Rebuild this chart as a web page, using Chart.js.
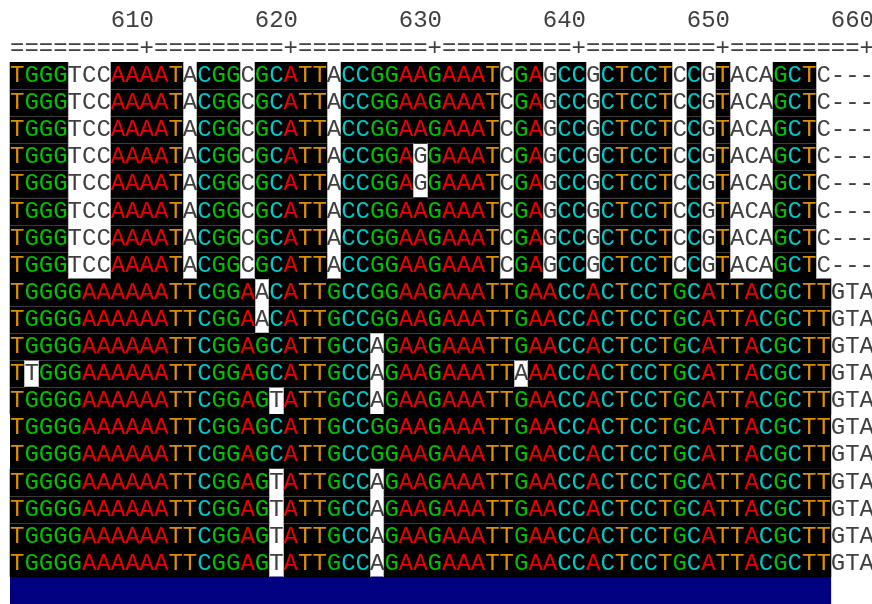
<!DOCTYPE html>
<html>
<head>
<meta charset="utf-8">
<script src="https://cdn.jsdelivr.net/npm/chart.js@4/dist/chart.umd.min.js"></script>
<style>
  html, body { margin: 0; padding: 0; background: #fff; overflow: hidden; }
  #wrap { width: 901px; height: 604px; }
</style>
</head>
<body>
<div id="wrap"><canvas id="aln" width="901" height="604"></canvas></div>
<script>
// Alignment block: positions 601..660
const firstPos = 601;
const lastPos = 660;
const rulerTicks = [610, 620, 630, 640, 650, 660];

// Row identifiers (not drawn)
const rowNames = ['s01', 's02', 's03', 's04', 's05', 's06', 's07', 's08', 's09', 's10',
                  's11', 's12', 's13', 's14', 's15', 's16', 's17', 's18', 's19'];

// Uppercase = shaded (conserved) residue, lowercase / '-' = unshaded
const sequences = [
  'TGGGtccAAAATaCGGcGCATTaCCGGAAGAAATcGAgCCgCTCCTcCgTacaGCTc---',
  'TGGGtccAAAATaCGGcGCATTaCCGGAAGAAATcGAgCCgCTCCTcCgTacaGCTc---',
  'TGGGtccAAAATaCGGcGCATTaCCGGAAGAAATcGAgCCgCTCCTcCgTacaGCTc---',
  'TGGGtccAAAATaCGGcGCATTaCCGGAgGAAATcGAgCCgCTCCTcCgTacaGCTc---',
  'TGGGtccAAAATaCGGcGCATTaCCGGAgGAAATcGAgCCgCTCCTcCgTacaGCTc---',
  'TGGGtccAAAATaCGGcGCATTaCCGGAAGAAATcGAgCCgCTCCTcCgTacaGCTc---',
  'TGGGtccAAAATaCGGcGCATTaCCGGAAGAAATcGAgCCgCTCCTcCgTacaGCTc---',
  'TGGGtccAAAATaCGGcGCATTaCCGGAAGAAATcGAgCCgCTCCTcCgTacaGCTc---',
  'TGGGGAAAAAATTCGGAaCATTGCCGGAAGAAATTGAACCACTCCTGCATTACGCTTgta',
  'TGGGGAAAAAATTCGGAaCATTGCCGGAAGAAATTGAACCACTCCTGCATTACGCTTgta',
  'TGGGGAAAAAATTCGGAGCATTGCCaGAAGAAATTGAACCACTCCTGCATTACGCTTgta',
  'TtGGGAAAAAATTCGGAGCATTGCCaGAAGAAATTaAACCACTCCTGCATTACGCTTgta',
  'TGGGGAAAAAATTCGGAGtATTGCCaGAAGAAATTGAACCACTCCTGCATTACGCTTgta',
  'TGGGGAAAAAATTCGGAGCATTGCCGGAAGAAATTGAACCACTCCTGCATTACGCTTgta',
  'TGGGGAAAAAATTCGGAGCATTGCCGGAAGAAATTGAACCACTCCTGCATTACGCTTgta',
  'TGGGGAAAAAATTCGGAGtATTGCCaGAAGAAATTGAACCACTCCTGCATTACGCTTgta',
  'TGGGGAAAAAATTCGGAGtATTGCCaGAAGAAATTGAACCACTCCTGCATTACGCTTgta',
  'TGGGGAAAAAATTCGGAGtATTGCCaGAAGAAATTGAACCACTCCTGCATTACGCTTgta',
  'TGGGGAAAAAATTCGGAGtATTGCCaGAAGAAATTGAACCACTCCTGCATTACGCTTgta'
];

// Coverage bar below the block (first and last position)
const summarySpan = [601, 657];

const baseColors = { A: '#e80000', C: '#00c8c8', G: '#00c000', T: '#dc9000' };
const plainColor = '#404040';
const shadeColor = '#000000';
const summaryColor = '#000080';
const monoFont = '"Liberation Mono", "Courier New", monospace';

// Row boundaries with a grid rule, rows with outlined shading
const ruledBoundaries = [1, 2, 3, 4, 5, 6, 7, 9, 10, 11, 12, 16, 17];
const outlinedRows = [0, 1, 2, 3, 4, 5, 6, 7, 8, 9, 10, 11, 12, 15, 16, 17, 18];

const isShaded = ch => /[ACGT]/.test(ch);

function shadedRuns(seq) {
  const runs = [];
  let start = null;
  for (let i = 0; i < seq.length; i++) {
    const on = isShaded(seq[i]);
    if (on && start === null) start = i;
    if (!on && start !== null) { runs.push([start, i]); start = null; }
  }
  if (start !== null) runs.push([start, seq.length]);
  return runs;
}

// column p occupies [p-1, p] on the x scale
const runsPerRow = sequences.map(shadedRuns);
const maxRuns = Math.max(...runsPerRow.map(r => r.length));
const datasets = [];
for (let k = 0; k < maxRuns; k++) {
  const data = [];
  runsPerRow.forEach((runs, r) => {
    if (runs[k]) data.push({ y: rowNames[r], x: [firstPos - 1 + runs[k][0], firstPos - 1 + runs[k][1]] });
  });
  datasets.push({
    data, backgroundColor: shadeColor, borderWidth: 0,
    grouped: false, barPercentage: 1, categoryPercentage: 1
  });
}
datasets.push({
  data: [{ y: 'summary', x: [summarySpan[0] - 1, summarySpan[1]] }],
  backgroundColor: summaryColor, borderWidth: 0,
  grouped: false, barPercentage: 1, categoryPercentage: 1
});

const residuePlugin = {
  id: 'residues',
  afterDatasetsDraw(chart) {
    const { ctx, scales: { x, y } } = chart;
    const colLeft = p => x.getPixelForValue(p - 1);
    const colRight = p => x.getPixelForValue(p);
    const half = (y.getPixelForValue(1) - y.getPixelForValue(0)) / 2;
    ctx.save();

    // grid rules between shaded rows
    ctx.strokeStyle = '#3c3c3c';
    ctx.lineWidth = 1;
    ruledBoundaries.forEach(k => {
      const yy = Math.round(y.getPixelForValue(k) - half) + 0.5;
      const a = sequences[k - 1], b = sequences[k];
      for (let i = 0; i < a.length; i++) {
        if (isShaded(a[i]) && isShaded(b[i])) {
          ctx.beginPath();
          ctx.moveTo(colLeft(firstPos + i), yy);
          ctx.lineTo(colRight(firstPos + i), yy);
          ctx.stroke();
        }
      }
    });

    // light outline at the sides of shaded runs
    ctx.strokeStyle = '#b8b8b8';
    outlinedRows.forEach(r => {
      const cy = y.getPixelForValue(r);
      runsPerRow[r].forEach(([s, e]) => {
        [colLeft(firstPos + s) - 0.5, colLeft(firstPos + e) + 0.5].forEach(xx => {
          const px = Math.round(xx - 0.5) + 0.5;
          ctx.beginPath();
          ctx.moveTo(px, cy - half);
          ctx.lineTo(px, cy + half);
          ctx.stroke();
        });
      });
    });

    // residues
    ctx.font = '24px ' + monoFont;
    ctx.textAlign = 'center';
    ctx.textBaseline = 'alphabetic';
    sequences.forEach((seq, r) => {
      const cy = y.getPixelForValue(r);
      for (let i = 0; i < seq.length; i++) {
        const ch = seq[i];
        const cx = x.getPixelForValue(firstPos - 0.5 + i);
        ctx.fillStyle = isShaded(ch) ? baseColors[ch] : plainColor;
        ctx.fillText(ch.toUpperCase(), cx, cy + 6.5);
      }
    });

    // ruler line under the position numbers
    ctx.fillStyle = plainColor;
    for (let p = firstPos; p <= lastPos; p++) {
      ctx.fillText(p % 10 === 0 ? '+' : '=', x.getPixelForValue(p - 0.5), 55);
    }
    ctx.restore();
  }
};

new Chart(document.getElementById('aln'), {
  type: 'bar',
  data: { labels: [...rowNames, 'summary'], datasets },
  plugins: [residuePlugin],
  options: {
    responsive: false,
    animation: false,
    indexAxis: 'y',
    events: [],
    layout: { padding: { left: 10, right: 0, top: 0, bottom: 0 } },
    plugins: { legend: { display: false }, tooltip: { enabled: false } },
    scales: {
      x: {
        type: 'linear', position: 'top',
        min: firstPos - 1, max: lastPos,
        grid: { display: false, drawTicks: false },
        border: { display: false },
        afterBuildTicks: s => { s.ticks = rulerTicks.map(v => ({ value: v })); },
        afterFit: s => { s.height = 62; },
        ticks: {
          align: 'end', maxRotation: 0, autoSkip: false, padding: 27,
          color: plainColor, font: { family: monoFont, size: 24 },
          callback: v => String(v)
        }
      },
      y: {
        type: 'category', display: false, offset: true,
        grid: { display: false }
      }
    }
  }
});
</script>
</body>
</html>
